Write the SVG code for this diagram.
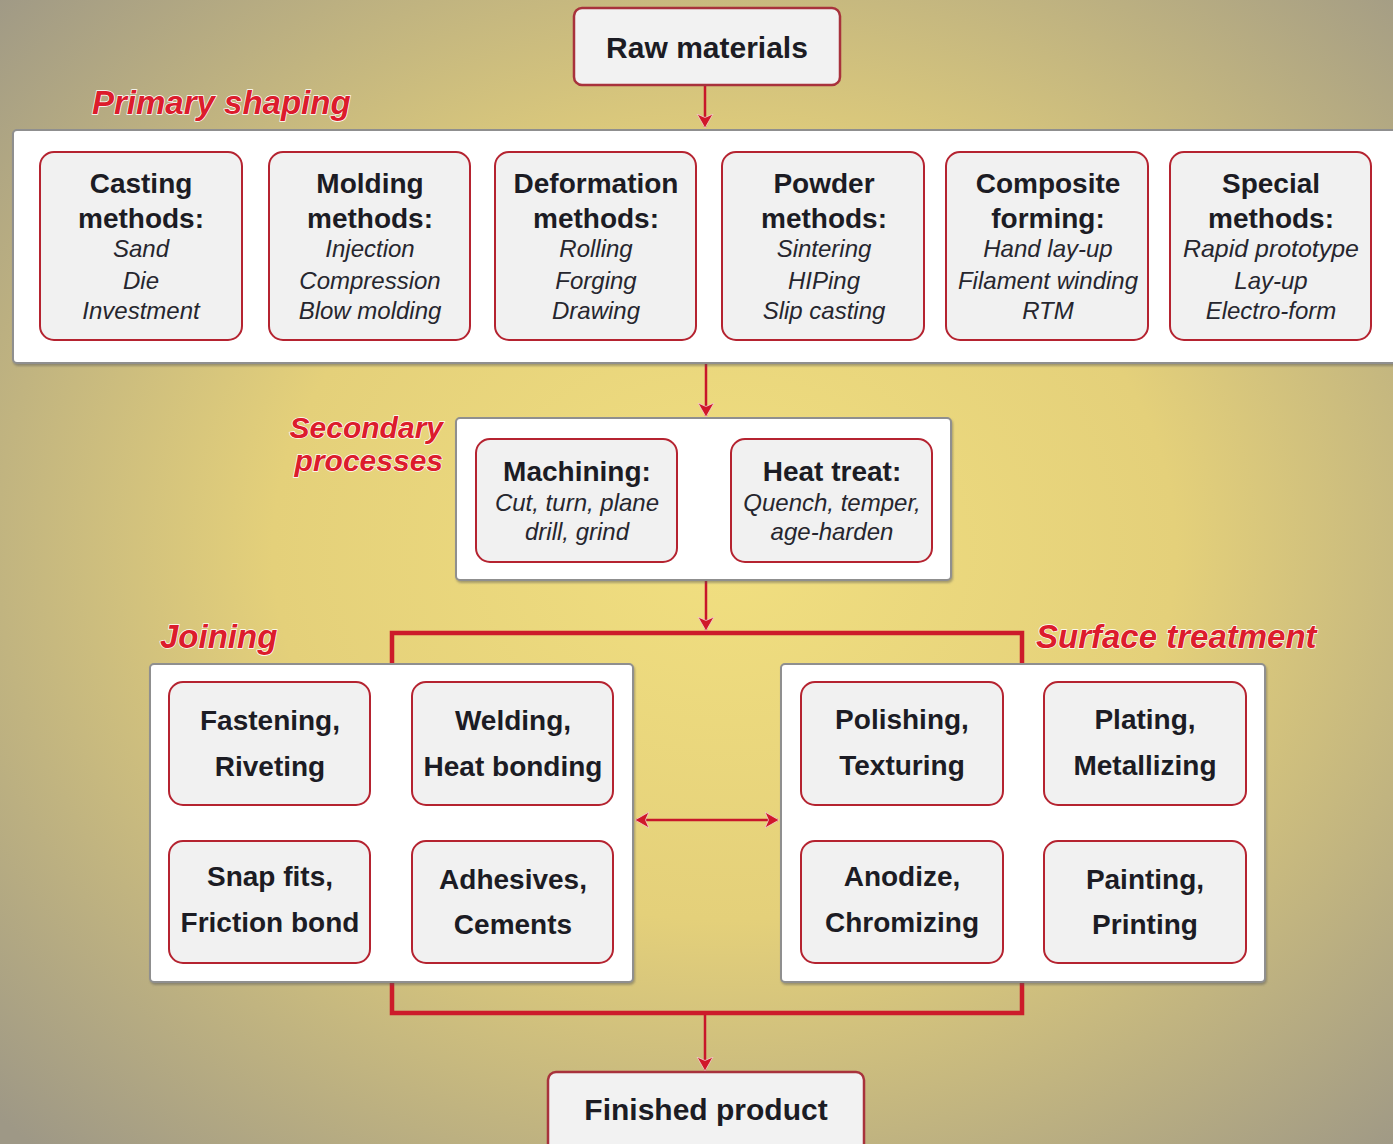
<svg xmlns="http://www.w3.org/2000/svg" width="1393" height="1144" viewBox="0 0 1393 1144">
<defs>
<radialGradient id="bg" cx="52%" cy="48%" r="72%" fx="52%" fy="48%">
<stop offset="0" stop-color="#f1df80"/>
<stop offset="0.45" stop-color="#e4d07a"/>
<stop offset="1" stop-color="#9e9886"/>
</radialGradient>
<filter id="sh" x="-5%" y="-5%" width="110%" height="115%">
<feDropShadow dx="1" dy="2" stdDeviation="1.2" flood-color="#555" flood-opacity="0.45"/>
</filter>
<marker id="ah" viewBox="0 0 14 18" refX="13" refY="9" markerWidth="14" markerHeight="18" markerUnits="userSpaceOnUse" orient="auto-start-reverse">
<path d="M0,1 L14,9 L0,17 L3.5,9 Z" fill="#d0182a" stroke="#f4d0d0" stroke-width="0.8"/>
</marker>
<style>
.panel{fill:#ffffff;stroke:#8f8f8f;stroke-width:2;filter:url(#sh)}
.box{fill:#f1f1f1;stroke:#b52330;stroke-width:2}
.end{fill:#f2f2f2;stroke:#a8323c;stroke-width:2.5}
.t{font-family:"Liberation Sans",Arial,sans-serif;font-weight:bold;font-size:28px;fill:#1c1c24;text-anchor:middle}
.big{font-size:30px}
.i{font-family:"Liberation Sans",Arial,sans-serif;font-style:italic;font-size:24px;fill:#26262e;text-anchor:middle}
.lab{font-family:"Liberation Sans",Arial,sans-serif;font-style:italic;font-weight:bold;font-size:33px;fill:#dc1c2c;stroke:#ffffff;stroke-width:1.4;paint-order:stroke;}
.sm{font-size:30px}
.arr{stroke:#c8162a;stroke-width:2.5;fill:none}
.brk{stroke:#cc1b2a;stroke-width:4.5;fill:none}
</style>
</defs>
<rect x="0" y="0" width="1393" height="1144" fill="url(#bg)"/>

<g id="labels">
<text class="lab" x="92" y="114">Primary shaping</text>
<text class="lab sm" x="443" y="438" text-anchor="end">Secondary</text>
<text class="lab sm" x="443" y="471" text-anchor="end">processes</text>
<text class="lab" x="160" y="648">Joining</text>
<text class="lab" x="1036" y="648">Surface treatment</text>
</g>

<g id="connectors">
<line class="arr" x1="705" y1="86" x2="705" y2="127" marker-end="url(#ah)"/>
<line class="arr" x1="706" y1="364" x2="706" y2="416" marker-end="url(#ah)"/>
<line class="arr" x1="706" y1="581" x2="706" y2="630" marker-end="url(#ah)"/>
<polyline class="brk" points="392,664 392,633 1022,633 1022,664"/>
<polyline class="brk" points="392,982 392,1013 1022,1013 1022,982"/>
<line class="arr" x1="705" y1="1015" x2="705" y2="1070" marker-end="url(#ah)"/>
<line class="arr" x1="636" y1="820" x2="778" y2="820" marker-start="url(#ah)" marker-end="url(#ah)"/>
</g>

<g id="raw">
<rect class="end" x="574" y="8" width="266" height="77" rx="8"/>
<text class="t big" x="707" y="58">Raw materials</text>
</g>

<g id="primary">
<rect class="panel" x="13" y="130" width="1400" height="233" rx="4"/>
</g>
<g id="casting">
<rect class="box" x="40" y="152" width="202" height="188" rx="14"/>
<text class="t" x="141" y="193">Casting</text>
<text class="t" x="141" y="228">methods:</text>
<text class="i" x="141" y="257">Sand</text>
<text class="i" x="141" y="289">Die</text>
<text class="i" x="141" y="319">Investment</text>
</g>
<g id="molding">
<rect class="box" x="269" y="152" width="201" height="188" rx="14"/>
<text class="t" x="370" y="193">Molding</text>
<text class="t" x="370" y="228">methods:</text>
<text class="i" x="370" y="257">Injection</text>
<text class="i" x="370" y="289">Compression</text>
<text class="i" x="370" y="319">Blow molding</text>
</g>
<g id="deformation">
<rect class="box" x="495" y="152" width="201" height="188" rx="14"/>
<text class="t" x="596" y="193">Deformation</text>
<text class="t" x="596" y="228">methods:</text>
<text class="i" x="596" y="257">Rolling</text>
<text class="i" x="596" y="289">Forging</text>
<text class="i" x="596" y="319">Drawing</text>
</g>
<g id="powder">
<rect class="box" x="722" y="152" width="202" height="188" rx="14"/>
<text class="t" x="824" y="193">Powder</text>
<text class="t" x="824" y="228">methods:</text>
<text class="i" x="824" y="257">Sintering</text>
<text class="i" x="824" y="289">HIPing</text>
<text class="i" x="824" y="319">Slip casting</text>
</g>
<g id="composite">
<rect class="box" x="946" y="152" width="202" height="188" rx="14"/>
<text class="t" x="1048" y="193">Composite</text>
<text class="t" x="1048" y="228">forming:</text>
<text class="i" x="1048" y="257">Hand lay-up</text>
<text class="i" x="1048" y="289">Filament winding</text>
<text class="i" x="1048" y="319">RTM</text>
</g>
<g id="special">
<rect class="box" x="1170" y="152" width="201" height="188" rx="14"/>
<text class="t" x="1271" y="193">Special</text>
<text class="t" x="1271" y="228">methods:</text>
<text class="i" x="1271" y="257" textLength="176" lengthAdjust="spacingAndGlyphs">Rapid prototype</text>
<text class="i" x="1271" y="289">Lay-up</text>
<text class="i" x="1271" y="319">Electro-form</text>
</g>

<g id="secondary">
<rect class="panel" x="456" y="418" width="495" height="162" rx="4"/>
</g>
<g id="machining">
<rect class="box" x="476" y="439" width="201" height="123" rx="14"/>
<text class="t" x="577" y="481">Machining:</text>
<text class="i" x="577" y="511">Cut, turn, plane</text>
<text class="i" x="577" y="540">drill, grind</text>
</g>
<g id="heattreat">
<rect class="box" x="731" y="439" width="201" height="123" rx="14"/>
<text class="t" x="832" y="481">Heat treat:</text>
<text class="i" x="832" y="511">Quench, temper,</text>
<text class="i" x="832" y="540">age-harden</text>
</g>

<g id="joining">
<rect class="panel" x="150" y="664" width="483" height="318" rx="4"/>
</g>
<g id="fastening">
<rect class="box" x="169" y="682" width="201" height="123" rx="14"/>
<text class="t" x="270" y="730">Fastening,</text>
<text class="t" x="270" y="776">Riveting</text>
</g>
<g id="welding">
<rect class="box" x="412" y="682" width="201" height="123" rx="14"/>
<text class="t" x="513" y="730">Welding,</text>
<text class="t" x="513" y="776">Heat bonding</text>
</g>
<g id="snapfits">
<rect class="box" x="169" y="841" width="201" height="122" rx="14"/>
<text class="t" x="270" y="886">Snap fits,</text>
<text class="t" x="270" y="932">Friction bond</text>
</g>
<g id="adhesives">
<rect class="box" x="412" y="841" width="201" height="122" rx="14"/>
<text class="t" x="513" y="889">Adhesives,</text>
<text class="t" x="513" y="934">Cements</text>
</g>

<g id="surface">
<rect class="panel" x="781" y="664" width="484" height="318" rx="4"/>
</g>
<g id="polishing">
<rect class="box" x="801" y="682" width="202" height="123" rx="14"/>
<text class="t" x="902" y="729">Polishing,</text>
<text class="t" x="902" y="775">Texturing</text>
</g>
<g id="plating">
<rect class="box" x="1044" y="682" width="202" height="123" rx="14"/>
<text class="t" x="1145" y="729">Plating,</text>
<text class="t" x="1145" y="775">Metallizing</text>
</g>
<g id="anodize">
<rect class="box" x="801" y="841" width="202" height="122" rx="14"/>
<text class="t" x="902" y="886">Anodize,</text>
<text class="t" x="902" y="932">Chromizing</text>
</g>
<g id="painting">
<rect class="box" x="1044" y="841" width="202" height="122" rx="14"/>
<text class="t" x="1145" y="889">Painting,</text>
<text class="t" x="1145" y="934">Printing</text>
</g>

<g id="finished">
<rect class="end" x="548" y="1072" width="316" height="90" rx="8"/>
<text class="t big" x="706" y="1120">Finished product</text>
</g>
</svg>
